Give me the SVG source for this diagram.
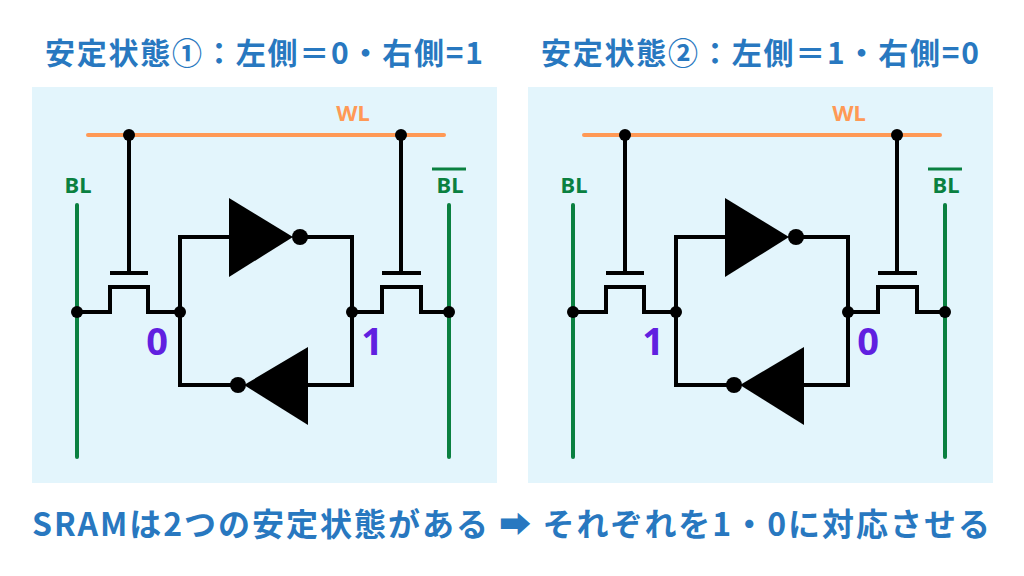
<svg xmlns="http://www.w3.org/2000/svg" width="1024" height="576" viewBox="0 0 1024 576">
<defs>
<style>
.t{font-family:"Noto Sans CJK JP","Noto Sans",sans-serif;font-weight:bold;fill:#2878C0}
.w{stroke:#000;stroke-width:4;fill:none;stroke-linejoin:miter}
.bl{stroke:#0A8040;stroke-width:4;stroke-linecap:round}
.wl{stroke:#FF9955;stroke-width:4;stroke-linecap:round}
.lb{font-family:"Noto Sans",sans-serif;font-weight:bold;font-size:22px}
.num{font-family:"Noto Sans",sans-serif;font-weight:bold;font-size:38px;fill:#6020E0}
</style>
<g id="cell">
<rect x="32" y="87" width="465" height="396" fill="#E3F5FC"/>
<line class="wl" x1="88" y1="135" x2="444" y2="135"/>
<text class="lb" x="353" y="121" fill="#FF9955" text-anchor="middle">WL</text>
<line class="bl" x1="77" y1="205" x2="77" y2="457"/>
<line class="bl" x1="449" y1="205" x2="449" y2="457"/>
<text class="lb" x="78" y="193" fill="#0A8040" text-anchor="middle">BL</text>
<text class="lb" x="450" y="193" fill="#0A8040" text-anchor="middle">BL</text>
<line x1="432" y1="169" x2="466" y2="169" stroke="#0A8040" stroke-width="3"/>
<path class="w" d="M129 135V273M110 273H148M77 312H110V287H148V312H180"/>
<path class="w" d="M401 135V273M382 273H421M352 312H382V287H421V312H449"/>
<path class="w" d="M180 312V237H229M300 237H352V385H308M244 385H180V312"/>
<polygon points="229,198 229,277 293,237"/>
<circle cx="300" cy="237" r="8"/>
<polygon points="308,347 308,425 244,385"/>
<circle cx="238" cy="385" r="8"/>
<g fill="#000"><circle cx="129" cy="135" r="6"/><circle cx="401" cy="135" r="6"/><circle cx="77" cy="312" r="6"/><circle cx="180" cy="312" r="6"/><circle cx="352" cy="312" r="6"/><circle cx="449" cy="312" r="6"/></g>
</g>
</defs>
<rect width="1024" height="576" fill="#fff"/>
<g id="state1"><use href="#cell"/><text class="num" x="157" y="355" text-anchor="middle">0</text><text class="num" x="372" y="355" text-anchor="middle">1</text></g>
<g id="state2"><use href="#cell" x="496"/><text class="num" x="653" y="355" text-anchor="middle">1</text><text class="num" x="868" y="355" text-anchor="middle">0</text></g>
<text class="t" x="264" y="64" font-size="30" text-anchor="middle" textLength="438">安定状態①：左側＝0・右側=1</text>
<text class="t" x="760" y="64" font-size="30" text-anchor="middle" textLength="438">安定状態②：左側＝1・右側=0</text>
<text class="t" x="511" y="536" font-size="32" text-anchor="middle" textLength="958">SRAMは2つの安定状態がある ➡ それぞれを1・0に対応させる</text>
</svg>
